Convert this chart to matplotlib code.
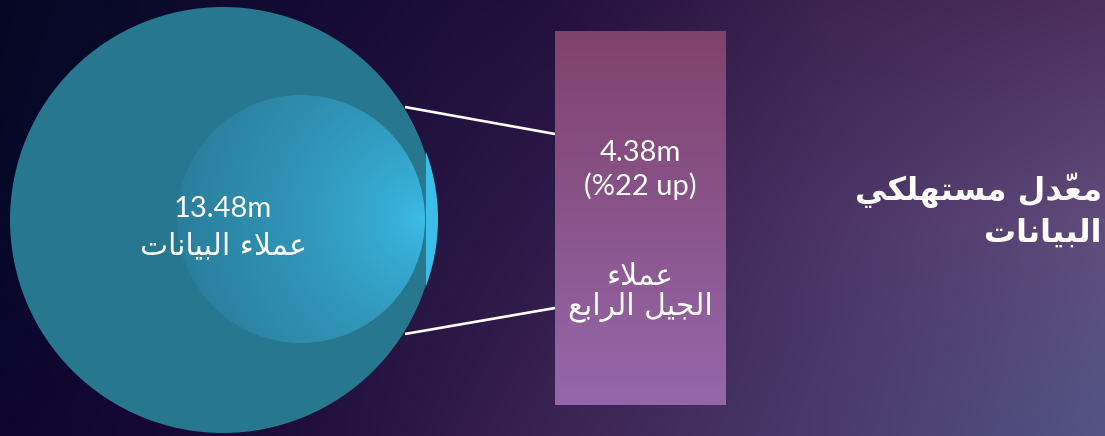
import numpy as np
import matplotlib
matplotlib.use('Agg')
import matplotlib.pyplot as plt
from matplotlib.patches import Circle, Rectangle
from matplotlib.colors import to_rgb

# ---------------- data ----------------
segment_labels = ['عملاء البيانات', 'عملاء الجيل الرابع']
values_m = [13.48, 4.38]
growth_pct = [None, 22]
title_lines = ['معدّل مستهلكي', 'البيانات']

# ---------------- simple Arabic shaping (presentation forms) ----------------
FORMS = {
    'ا': ('\uFE8D', '\uFE8E', None, None),
    'ب': ('\uFE8F', '\uFE90', '\uFE91', '\uFE92'),
    'ت': ('\uFE95', '\uFE96', '\uFE97', '\uFE98'),
    'ج': ('\uFE9D', '\uFE9E', '\uFE9F', '\uFEA0'),
    'د': ('\uFEA9', '\uFEAA', None, None),
    'ر': ('\uFEAD', '\uFEAE', None, None),
    'س': ('\uFEB1', '\uFEB2', '\uFEB3', '\uFEB4'),
    'ع': ('\uFEC9', '\uFECA', '\uFECB', '\uFECC'),
    'ك': ('\uFED9', '\uFEDA', '\uFEDB', '\uFEDC'),
    'ل': ('\uFEDD', '\uFEDE', '\uFEDF', '\uFEE0'),
    'م': ('\uFEE1', '\uFEE2', '\uFEE3', '\uFEE4'),
    'ن': ('\uFEE5', '\uFEE6', '\uFEE7', '\uFEE8'),
    'ه': ('\uFEE9', '\uFEEA', '\uFEEB', '\uFEEC'),
    'ي': ('\uFEF1', '\uFEF2', '\uFEF3', '\uFEF4'),
    'ء': ('\uFE80', None, None, None),
}


def _dual(c):
    return c in FORMS and FORMS[c][2] is not None


def _joins(c):
    return c == 'LA' or (c in FORMS and FORMS[c][1] is not None)


def shape_word(word):
    clusters = []
    for ch in word:
        if ch == '\u0651' and clusters:
            clusters[-1][1].append(ch)
        else:
            clusters.append([ch, []])
    merged = []
    i = 0
    while i < len(clusters):
        if clusters[i][0] == 'ل' and i + 1 < len(clusters) and clusters[i + 1][0] == 'ا':
            merged.append(['LA', clusters[i][1] + clusters[i + 1][1]])
            i += 2
        else:
            merged.append(clusters[i])
            i += 1
    out = []
    for k, (c, marks) in enumerate(merged):
        prev = merged[k - 1][0] if k > 0 else None
        nxt = merged[k + 1][0] if k + 1 < len(merged) else None
        jp = prev is not None and _dual(prev) and _joins(c)
        jn = nxt is not None and _dual(c) and _joins(nxt)
        if c == 'LA':
            g = '\uFEFC' if jp else '\uFEFB'
        elif c in FORMS:
            iso, fin, ini, med = FORMS[c]
            if jp and jn:
                g = med
            elif jp:
                g = fin
            elif jn:
                g = ini
            else:
                g = iso
        else:
            g = c
        out.append(g + ''.join(marks))
    return ''.join(reversed(out))


def ar(line):
    return ' '.join(shape_word(w) for w in reversed(line.split(' ')))


# ---------------- figure ----------------
W, H = 1105, 436
fig = plt.figure(figsize=(W / 100, H / 100), dpi=100)
ax = fig.add_axes([0, 0, 1, 1])
ax.set_xlim(0, W)
ax.set_ylim(H, 0)
ax.axis('off')

# background gradient
gx = [0, 276, 552, 828, 1105]
grid = [
    ['#030a24', '#120a32', '#22103e', '#3d2450', '#4b2f5d'],
    ['#06082a', '#1a0c38', '#2e1a4a', '#4a3466', '#604c7c'],
    ['#0e0530', '#1e0c3a', '#3a2453', '#4a3a6c', '#525585'],
]
xx = np.arange(W)
rows = []
for r in grid:
    cols = np.array([to_rgb(c) for c in r])
    rows.append(np.stack([np.interp(xx, gx, cols[:, ch]) for ch in range(3)], axis=-1))
rows = np.array(rows)  # (3, W, 3)
yy = np.arange(H)[:, None, None]
a1 = np.clip(yy / 218.0, 0, 1)
a2 = np.clip((yy - 218) / 218.0, 0, 1)
bg = np.where(yy <= 218, (1 - a1) * rows[0] + a1 * rows[1], (1 - a2) * rows[1] + a2 * rows[2])
ax.imshow(bg, extent=(0, W, H, 0), zorder=0, interpolation='bilinear', aspect='auto')

# connector lines
ax.plot([405, 555], [107, 134], color='white', lw=1.9, zorder=2, solid_capstyle='butt')
ax.plot([405, 555], [334, 308], color='white', lw=1.9, zorder=2, solid_capstyle='butt')

# big circle
cx, cy, R = 223, 220, 213
ax.add_patch(Circle((cx, cy), R, facecolor='#27778f', edgecolor='none', zorder=3))

# bright sliver at the right edge
sliver = Circle((243, 219), 195, facecolor='#3bbde8', edgecolor='none', zorder=3.5)
ax.add_patch(sliver)
sliver.set_clip_path(Rectangle((425.5, 0), 60, H, transform=ax.transData))

# inner gradient disk
dcx, dcy, dr = 301, 219, 124
x0, x1, y0, y1 = dcx - dr, dcx + dr, dcy - dr, dcy + dr
gxs = np.linspace(x0, x1, 300)
gys = np.linspace(y0, y1, 300)
GX, GY = np.meshgrid(gxs, gys)
d = np.hypot(GX - 422, GY - 219)
t = np.clip(d / 245.0, 0, 1) ** 0.67
bright = np.array(to_rgb('#3cbfea'))
edge = np.array(to_rgb('#2a7e9d'))
img = (1 - t)[..., None] * bright + t[..., None] * edge
im = ax.imshow(img, extent=(x0, x1, y1, y0), zorder=4, interpolation='bilinear', aspect='auto')
im.set_clip_path(Circle((dcx, dcy), dr, transform=ax.transData))

# bar (4G customers)
bars = ax.bar([640.5], [374], bottom=31, width=171, color='none', edgecolor='none', zorder=3)
bar = bars[0]
by = np.linspace(0, 1, 200)[:, None]
top_c = np.array(to_rgb('#7f426c'))
bot_c = np.array(to_rgb('#9567aa'))
bimg = (1 - by)[..., None] * top_c + by[..., None] * bot_c
bimg = np.repeat(bimg, 2, axis=1)
bim = ax.imshow(bimg, extent=(555, 726, 405, 31), zorder=3, aspect='auto', interpolation='bilinear')
bim.set_clip_path(bar)

# texts
num_font = dict(family=['Lato', 'DejaVu Sans'], weight='normal', color='white')
ar_font = dict(family=['DejaVu Sans'], weight='normal', color='white')

ax.text(cx, 209, f'{values_m[0]:.2f}m', fontsize=21, ha='center', va='center', zorder=6, **num_font)
ax.text(cx, 246, ar(segment_labels[0]), fontsize=21.5, ha='center', va='center', zorder=6, **ar_font)

ax.text(640.5, 153, f'{values_m[1]:.2f}m', fontsize=21, ha='center', va='center', zorder=6, **num_font)
ax.text(640.5, 186, f'(%{growth_pct[1]} up)', fontsize=21, ha='center', va='center', zorder=6, **num_font)
seg2 = segment_labels[1].split(' ', 1)
ax.text(640.5, 276, ar(seg2[0]), fontsize=21.5, ha='center', va='center', zorder=6, **ar_font)
ax.text(640.5, 307, ar(seg2[1]), fontsize=21.5, ha='center', va='center', zorder=6, **ar_font)

title_font = dict(family=['DejaVu Sans'], weight='bold', color='white')
ax.text(1102, 190, ar(title_lines[0]), fontsize=23, ha='right', va='center', zorder=6, **title_font)
ax.text(1101, 233, ar(title_lines[1]), fontsize=23, ha='right', va='center', zorder=6, **title_font)

fig.savefig('out.png', dpi=100)
